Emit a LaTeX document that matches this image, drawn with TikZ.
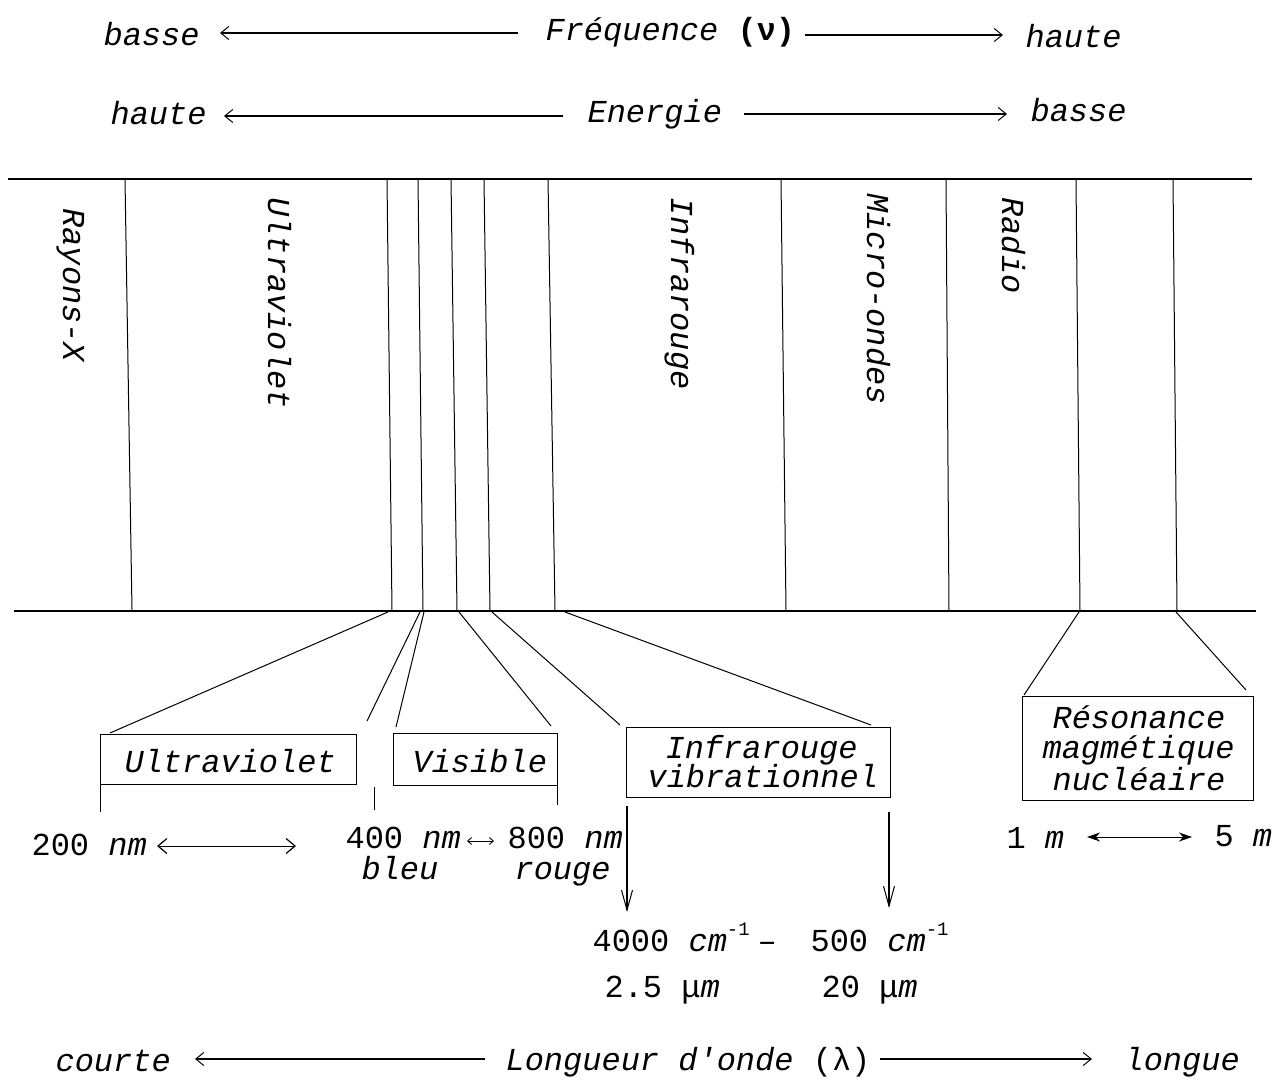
\documentclass[tikz,border=0pt]{standalone}
\usepackage{fontspec}
\setmonofont{Liberation Mono}
\renewcommand{\familydefault}{\ttdefault}
\usetikzlibrary{arrows.meta}
\begin{document}
\begin{tikzpicture}[x=1pt,y=-1pt,line width=1.1pt,
  txt/.style={inner sep=0pt,anchor=base west,text height=20pt,text depth=5pt,font=\ttfamily\fontsize{32}{36}\selectfont},
  it/.style={txt,font=\ttfamily\fontsize{32}{36}\selectfont\itshape},
  vlab/.style={it,rotate=-90},
  barb/.style={-{Straight Barb[length=8pt,width=13pt,line width=1pt]}},
  dbarb/.style={{Straight Barb[length=9pt,width=15pt,line width=1.2pt]}-{Straight Barb[length=9pt,width=15pt,line width=1.2pt]}},
  smallarr/.style={line width=0.9pt,{Straight Barb[length=4pt,width=7pt]}-{Straight Barb[length=4pt,width=7pt]}},
  stealtharr/.style={{Stealth[length=13pt,width=9pt,inset=4pt]}-{Stealth[length=13pt,width=9pt,inset=4pt]}},
  downarr/.style={-{Straight Barb[length=20pt,width=11pt,line width=1pt]}},
  thin/.style={line width=1pt}]
\useasboundingbox (0,0) rectangle (1277,1086);

% ---------- top rows ----------
\node[it] (basseA) at (103,46) {basse};
\node[it] (freq) at (545,41) {Fréquence {\upshape\bfseries(ν)}};
\node[it] (hauteA) at (1025,48) {haute};
\coordinate (a1s) at (518,33); \coordinate (a1e) at (220,33);
\coordinate (a2s) at (805,35); \coordinate (a2e) at (1003,35);
\draw[barb] (a1s) -- (a1e);
\draw[barb] (a2s) -- (a2e);

\node[it] (hauteB) at (110,125) {haute};
\node[it] (energie) at (587,123) {Energie};
\node[it] (basseB) at (1030,122) {basse};
\coordinate (b1s) at (563,116); \coordinate (b1e) at (224,116);
\coordinate (b2s) at (744,114); \coordinate (b2e) at (1007,114);
\draw[barb] (b1s) -- (b1e);
\draw[barb] (b2s) -- (b2e);

% ---------- spectrum band ----------
\coordinate (tl) at (8,179);  \coordinate (tr) at (1252,179);
\coordinate (bl) at (14,611); \coordinate (br) at (1256,611);
\draw (tl) -- (tr);
\draw (bl) -- (br);
\foreach \i/\xt/\xb in {1/125/132, 2/387/392, 3/418/423, 4/451/457, 5/484/490,
                        6/548/555, 7/781/786, 8/946/949, 9/1076/1080, 10/1173/1177}{
  \coordinate (t\i) at (\xt,179);
  \coordinate (b\i) at (\xb,611);
  \draw[thin] (t\i) -- (b\i);
}

\node[vlab] (rx) at (63,208) {Rayons-X};
\node[vlab] (uv) at (268,197) {Ultraviolet};
\node[vlab] (ir) at (671,197) {Infrarouge};
\node[vlab] (mo) at (867,193) {Micro-ondes};
\node[vlab] (ra) at (1002,197) {Radio};

% ---------- fan lines ----------
\coordinate (f1a) at (388,612); \coordinate (f1b) at (110,733);
\coordinate (f2a) at (420,612); \coordinate (f2b) at (367,721);
\coordinate (f3a) at (424,612); \coordinate (f3b) at (396,727);
\coordinate (f4a) at (459,612); \coordinate (f4b) at (551,726);
\coordinate (f5a) at (492,612); \coordinate (f5b) at (620,725);
\coordinate (f6a) at (565,612); \coordinate (f6b) at (871,725);
\coordinate (f7a) at (1079,612); \coordinate (f7b) at (1024,695);
\coordinate (f8a) at (1176,612); \coordinate (f8b) at (1246,690);
\foreach \i in {1,...,8}{ \draw[thin] (f\i a) -- (f\i b); }

% ---------- UV box ----------
\coordinate (uvTL) at (100,734); \coordinate (uvBR) at (356,784);
\coordinate (uvL) at (100,812);
\coordinate (tk1) at (374,787); \coordinate (tk2) at (374,810);
\draw[thin] (uvTL) rectangle (uvBR);
\draw[thin] (uvTL) -- (uvL);
\draw[thin] (tk1) -- (tk2);
\node[it] (uvb) at (124,772) {Ultraviolet};

% ---------- Visible box ----------
\coordinate (viTL) at (393,733); \coordinate (viBR) at (557,785);
\coordinate (viR) at (557,805);
\draw[thin] (viTL) rectangle (viBR);
\draw[thin] (viBR) -- (viR);
\node[it] (vis) at (412,772) {Visible};

% ---------- wavelengths UV / visible ----------
\node[txt] (n200) at (31,855) {200 \textit{nm}};
\coordinate (u1) at (157,846); \coordinate (u2) at (296,846);
\draw[dbarb,thin] (u1) -- (u2);
\node[txt] (n400) at (345,848) {400 \textit{nm}};
\node[txt] (n800) at (507,848) {800 \textit{nm}};
\coordinate (v1) at (467,841); \coordinate (v2) at (494,841);
\draw[smallarr] (v1) -- (v2);
\node[it] (bleu) at (361,879) {bleu};
\node[it] (rouge) at (514,879) {rouge};

% ---------- IR box ----------
\coordinate (irTL) at (626,727); \coordinate (irBR) at (890,797);
\draw[thin] (irTL) rectangle (irBR);
\node[it] (ir1) at (665,758) {Infrarouge};
\node[it] (ir2) at (647,787) {vibrationnel};
\coordinate (d1a) at (627,806); \coordinate (d1b) at (627,912);
\coordinate (d2a) at (889,812); \coordinate (d2b) at (889,908);
\draw[downarr] (d1a) -- (d1b);
\draw[downarr] (d2a) -- (d2b);

\node[txt] (w4000) at (592,951) {4000 \textit{cm}\raisebox{16pt}{\fontsize{19}{19}\selectfont -1}};
\node[txt] (dash) at (757,951) {–};
\node[txt] (w500) at (810,951) {500 \textit{cm}\raisebox{16pt}{\fontsize{19}{19}\selectfont -1}};
\node[txt] (l25) at (604,997) {2.5 μ\textit{m}};
\node[txt] (l20) at (821,997) {20 μ\textit{m}};

% ---------- NMR box ----------
\coordinate (rmTL) at (1022,696); \coordinate (rmBR) at (1253,800);
\draw[thin] (rmTL) rectangle (rmBR);
\node[it] (rm1) at (1052,728) {Résonance};
\node[it] (rm2) at (1042,758) {magmétique};
\node[it] (rm3) at (1052,790) {nucléaire};
\node[txt] (m1) at (1006,848) {1 \textit{m}};
\node[txt] (m5) at (1214,846) {5 \textit{m}};
\coordinate (r1) at (1087,837); \coordinate (r2) at (1192,837);
\draw[stealtharr,thin] (r1) -- (r2);

% ---------- bottom row ----------
\node[it] (courte) at (55,1071) {courte};
\node[it] (longueur) at (505,1070) {Longueur d'onde {\upshape(λ)}};
\node[it] (longue) at (1124,1070) {longue};
\coordinate (c1s) at (485,1059); \coordinate (c1e) at (195,1059);
\coordinate (c2s) at (880,1059); \coordinate (c2e) at (1092,1059);
\draw[barb] (c1s) -- (c1e);
\draw[barb] (c2s) -- (c2e);
\end{tikzpicture}
\end{document}
